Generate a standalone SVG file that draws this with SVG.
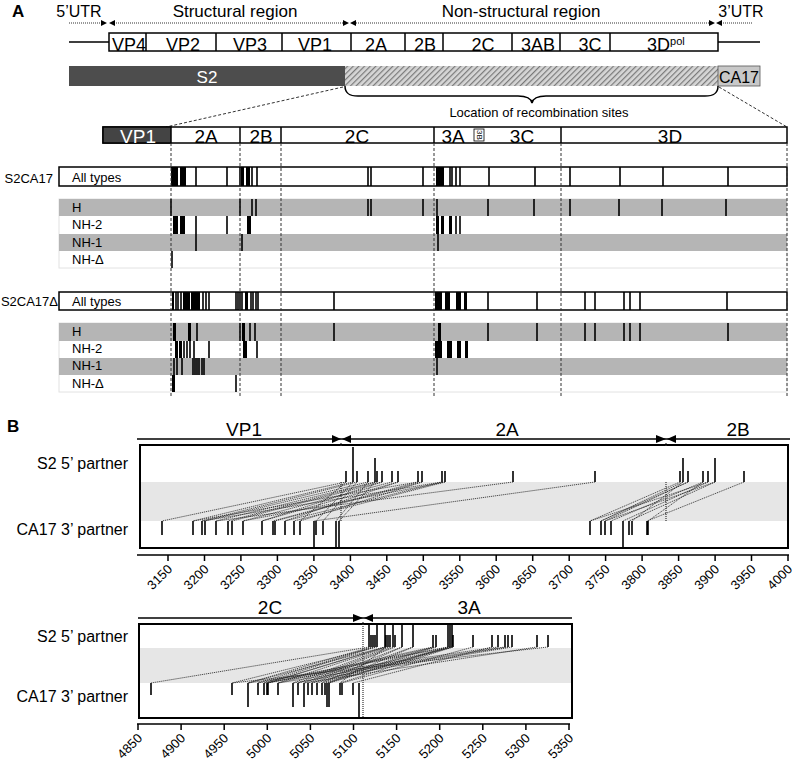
<svg xmlns="http://www.w3.org/2000/svg" width="797" height="765" viewBox="0 0 797 765">
<defs>
<pattern id="hatch" patternUnits="userSpaceOnUse" width="4" height="4" patternTransform="rotate(45)">
<rect width="4" height="4" fill="#d6d6d6"/>
<rect width="1.2" height="4" fill="#7a7a7a"/>
</pattern>
</defs>
<style>
text{font-family:"Liberation Sans",Arial,sans-serif;fill:#000}
.hd{font-size:17px;text-anchor:middle}
.ut{font-size:16px;text-anchor:middle}
.g1{font-size:18px;text-anchor:middle}
.g2{font-size:19px;text-anchor:middle}
.rl{font-size:13px}
.pl{font-size:16px;text-anchor:end}
.ax{font-size:13px;text-anchor:end}
.box{fill:#fff;stroke:#000;stroke-width:1.5}
.dotl{stroke:#333;stroke-width:1.2;stroke-dasharray:1 1;fill:none}
.dash{stroke:#333;stroke-width:1;stroke-dasharray:3 2;fill:none}
.tk{stroke:#000;stroke-width:1.6;fill:none}
.blk{fill:#000}
.gr{fill:#b5b5b5}
.wr{fill:#fff;stroke:#e2e2e2;stroke-width:1}
.cn{stroke:#222;stroke-width:0.8;stroke-dasharray:1.2 0.8;fill:none}
.ln{stroke:#000;stroke-width:1.5;fill:none}
</style>

<!-- Panel A header -->
<g id="panelA-header">
<text x="12" y="17" style="font-size:17px;font-weight:bold">A</text>
<text class="ut" x="79" y="17">5’UTR</text>
<text class="hd" x="235" y="17">Structural region</text>
<text class="hd" x="521" y="17">Non-structural region</text>
<text class="ut" x="741" y="17">3’UTR</text>
<path class="dotl" d="M69,23H101 M114,23H343 M356,23H709 M721,23H752"/>
<path d="M101,20L107,23L101,26Z M115,20L109,23L115,26Z M343,20L349,23L343,26Z M356,20L350,23L356,26Z M709,20L715,23L709,26Z M722,20L716,23L722,26Z" fill="#000"/>
</g>

<g id="genome">
<path class="ln" d="M69,42H109 M718,42H760"/>
<rect class="box" x="109" y="33" width="609" height="18"/>
<path class="ln" d="M146,33V51 M216,33V51 M282,33V51 M351,33V51 M405,33V51 M443,33V51 M512,33V51 M560,33V51 M610,33V51"/>
<text class="g1" x="129" y="51">VP4</text>
<text class="g1" x="183" y="51">VP2</text>
<text class="g1" x="250" y="51">VP3</text>
<text class="g1" x="315" y="51">VP1</text>
<text class="g1" x="376" y="51">2A</text>
<text class="g1" x="425" y="51">2B</text>
<text class="g1" x="483" y="51">2C</text>
<text class="g1" x="538" y="51">3AB</text>
<text class="g1" x="590" y="51">3C</text>
<text x="647" y="51" style="font-size:18px">3D<tspan dy="-6" style="font-size:11px">pol</tspan></text>
</g>

<g id="chimera-bar">
<rect x="69" y="66" width="276" height="20" fill="#4d4d4d"/>
<rect x="345" y="66" width="373" height="20" fill="url(#hatch)"/>
<rect x="718" y="66" width="42" height="20" fill="#c8c8c8" stroke="#555" stroke-width="0.8"/>
<text x="207" y="83" style="font-size:17px;text-anchor:middle;fill:#fff">S2</text>
<text x="739" y="83" style="font-size:16px;text-anchor:middle">CA17</text>
</g>

<g id="brace">
<path class="ln" d="M345,86 C345,94 350,96 358,96 L518,96 C526,96 531,98 532,103 C533,98 538,96 546,96 L705,96 C713,96 718,94 718,86"/>
<text x="539" y="117" style="font-size:13px;text-anchor:middle">Location of recombination sites</text>
</g>

<g id="zoom-lines">
<path class="dash" d="M343,87L166,127 M719,87L787,127"/>
</g>

<g id="genome-detail">
<rect class="box" x="103" y="127" width="684" height="16"/>
<rect x="103" y="127" width="68" height="16" fill="#444" stroke="#000" stroke-width="1.5"/>
<path class="ln" d="M240,127V143 M281,127V143 M434,127V143 M561,127V143"/>
<rect x="474" y="129" width="10" height="12" fill="#fff" stroke="#000" stroke-width="0.8"/>
<text x="479" y="135" transform="rotate(90 479 135)" style="font-size:8px;text-anchor:middle;dominant-baseline:central">3B</text>
<text x="138" y="143" style="font-size:19px;text-anchor:middle;fill:#fff">VP1</text>
<text class="g2" x="206" y="143">2A</text>
<text class="g2" x="261" y="143">2B</text>
<text class="g2" x="357" y="143">2C</text>
<text class="g2" x="453" y="143">3A</text>
<text class="g2" x="522" y="143">3C</text>
<text class="g2" x="670" y="143">3D</text>
</g>

<!-- S2CA17 rows -->
<g id="S2CA17">
<text class="rl" x="53" y="183" text-anchor="end">S2CA17</text>
<rect class="box" x="59" y="167" width="728" height="19"/>
<text class="rl" x="72" y="182">All types</text>
<path class="tk" d="M196,167V186 M227,167V186 M240,167V186 M252,167V186 M257,167V186 M368,167V186 M371,167V186 M423,167V186 M450,167V186 M452,167V186 M456,167V186 M460,167V186 M489,167V186 M535,167V186 M570,167V186 M620,167V186 M663,167V186 M728,167V186"/>
<path class="blk" d="M171,167h7v19h-7Z M180,167h6v19h-6Z M241,167h3v19h-3Z M246,167h4v19h-4Z M436,167h8v19h-8Z"/>

<rect class="wr" x="59" y="199" width="728" height="69"/>
<rect class="gr" x="59" y="199" width="728" height="17"/>
<rect class="gr" x="59" y="234" width="728" height="17"/>
<text class="rl" x="72" y="212">H</text>
<text class="rl" x="72" y="229">NH-2</text>
<text class="rl" x="72" y="247">NH-1</text>
<text class="rl" x="72" y="264">NH-Δ</text>
<path class="tk" d="M171,199V216 M240,199V216 M252,199V216 M256,199V216 M368,199V216 M371,199V216 M423,199V216 M437,199V216 M488,199V216 M534,199V216 M570,199V216 M619,199V216 M662,199V216 M726,199V216"/>
<path class="tk" d="M196,216V234 M227,216V234 M456,216V234 M460,216V234"/>
<path class="blk" d="M173,216h5v18h-5Z M180,216h5v18h-5Z M247,216h4v18h-4Z M436,216h3v18h-3Z M441,216h3v18h-3Z M449,216h3v18h-3Z"/>
<path class="tk" d="M196,234V251 M242,234V251 M438,234V251"/>
<path class="tk" d="M172,251V268"/>
</g>

<!-- S2CA17Δ rows -->
<g id="S2CA17delta">
<text class="rl" x="58" y="306" text-anchor="end">S2CA17Δ</text>
<rect class="box" x="59" y="292" width="728" height="18"/>
<text class="rl" x="72" y="306">All types</text>
<path class="tk" d="M176,292V310 M178,292V310 M181,292V310 M203,292V310 M206,292V310 M209,292V310 M236,292V310 M238,292V310 M240,292V310 M242,292V310 M251,292V310 M253,292V310 M256,292V310 M258,292V310 M334,292V310 M488,292V310 M537,292V310 M585,292V310 M595,292V310 M624,292V310 M630,292V310 M640,292V310 M727,292V310"/>
<path class="blk" d="M172,292h2v18h-2Z M183,292h7v18h-7Z M191,292h9v18h-9Z M245,292h3v18h-3Z M435,292h7v18h-7Z M445,292h5v18h-5Z M456,292h5v18h-5Z M464,292h3v18h-3Z"/>

<rect class="wr" x="59" y="323" width="728" height="69"/>
<rect class="gr" x="59" y="323" width="728" height="18"/>
<rect class="gr" x="59" y="358" width="728" height="17"/>
<text class="rl" x="72" y="336">H</text>
<text class="rl" x="72" y="353">NH-2</text>
<text class="rl" x="72" y="370">NH-1</text>
<text class="rl" x="72" y="388">NH-Δ</text>
<path class="tk" d="M197,323V341 M240,323V341 M250,323V341 M255,323V341 M334,323V341 M488,323V341 M537,323V341 M585,323V341 M595,323V341 M624,323V341 M630,323V341 M640,323V341 M728,323V341"/>
<path class="blk" d="M173,323h3v18h-3Z M188,323h3v18h-3Z M242,323h3v18h-3Z M438,323h3v18h-3Z"/>
<path class="tk" d="M184,341V358 M187,341V358 M190,341V358 M194,341V358 M209,341V358 M257,341V358"/>
<path class="blk" d="M175,341h3v17h-3Z M179,341h3v17h-3Z M243,341h4v17h-4Z M435,341h7v17h-7Z M447,341h5v17h-5Z M457,341h4v17h-4Z M465,341h3v17h-3Z"/>
<path class="tk" d="M174,358V375 M177,358V375 M182,358V375 M193,358V375 M195,358V375 M197,358V375 M199,358V375 M202,358V375 M204,358V375 M437,358V375"/>
<path class="tk" d="M236,375V392"/>
<path class="blk" d="M172,375h3v17h-3Z"/>
</g>

<g id="boundaries">
<path class="dash" d="M171,143V398 M240,143V398 M281,143V398 M434,143V398 M561,143V398 M787,143V398"/>
</g>

<!-- Panel B upper -->
<g id="panelB-upper">
<text x="7" y="432" style="font-size:17px;font-weight:bold">B</text>
<path class="ln" d="M137,439H790"/>
<path d="M332,435L341,439L332,443Z M351,435L342,439L351,443Z M656,435L666,439L656,443Z M676,435L667,439L676,443Z" fill="#000"/>
<text class="g2" x="244" y="436">VP1</text>
<text class="g2" x="507" y="436">2A</text>
<text class="g2" x="738" y="436">2B</text>
<rect x="140" y="482" width="648" height="39" fill="#e6e6e6"/>
<rect x="140" y="445" width="648" height="103" fill="none" stroke="#000" stroke-width="2"/>
<text class="pl" x="128" y="469">S2 5’ partner</text>
<text class="pl" x="128" y="535">CA17 3’ partner</text>
<path class="dotl" d="M341,443V447 M341,482V521 M666,443V447 M666,482V521"/>
<path class="tk" d="M346,471V482 M357,471V482 M368,471V482 M377,471V482 M382,471V482 M392,471V482 M398,471V482 M418,471V482 M422,471V482 M442,471V482 M445,471V482 M513,471V482 M595,471V482 M680,471V482 M688,471V482 M703,471V482 M708,471V482 M744,471V482 M353,447V482 M375,458V482 M683,458V482 M715,458V482"/>
<path class="tk" d="M162,521V535 M193,521V535 M202,521V535 M205,521V535 M216,521V535 M228,521V535 M232,521V535 M243,521V535 M262,521V535 M273,521V535 M275,521V535 M285,521V535 M294,521V535 M300,521V535 M316,521V535 M323,521V535 M590,521V535 M601,521V535 M605,521V535 M611,521V535 M629,521V535 M632,521V535 M647,521V535 M648,521V535 M314,521V548 M336,521V548 M339,521V548 M623,521V548"/>
<path class="cn" d="M346,482L162,521 M353,482L193,521 M357,482L202,521 M368,482L205,521 M375,482L216,521 M377,482L228,521 M382,482L232,521 M392,482L243,521 M398,482L262,521 M418,482L273,521 M422,482L275,521 M442,482L285,521 M445,482L294,521 M513,482L216,521 M595,482L314,521 M346,482L300,521 M353,482L316,521 M357,482L323,521 M368,482L336,521 M375,482L339,521 M418,482L193,521 M442,482L202,521 M382,482L262,521 M398,482L285,521 M422,482L300,521 M445,482L243,521"/>
<path class="cn" d="M680,482L590,521 M683,482L601,521 M688,482L605,521 M703,482L611,521 M708,482L623,521 M715,482L629,521 M744,482L647,521 M683,482L632,521 M703,482L648,521 M688,482L601,521 M715,482L605,521 M708,482L590,521"/>
<path class="ln" d="M137,555H789 M168,555V561 M204.5,555V561 M240.9,555V561 M277.4,555V561 M313.9,555V561 M350.4,555V561 M386.8,555V561 M423.3,555V561 M459.8,555V561 M496.2,555V561 M532.7,555V561 M569.2,555V561 M605.6,555V561 M642.1,555V561 M678.6,555V561 M715.1,555V561 M751.5,555V561 M788,555V561"/>
<text class="ax" x="173" y="570" transform="rotate(-45 173 570)">3150</text>
<text class="ax" x="209.5" y="570" transform="rotate(-45 209.5 570)">3200</text>
<text class="ax" x="245.9" y="570" transform="rotate(-45 245.9 570)">3250</text>
<text class="ax" x="282.4" y="570" transform="rotate(-45 282.4 570)">3300</text>
<text class="ax" x="318.9" y="570" transform="rotate(-45 318.9 570)">3350</text>
<text class="ax" x="355.4" y="570" transform="rotate(-45 355.4 570)">3400</text>
<text class="ax" x="391.8" y="570" transform="rotate(-45 391.8 570)">3450</text>
<text class="ax" x="428.3" y="570" transform="rotate(-45 428.3 570)">3500</text>
<text class="ax" x="464.8" y="570" transform="rotate(-45 464.8 570)">3550</text>
<text class="ax" x="501.2" y="570" transform="rotate(-45 501.2 570)">3600</text>
<text class="ax" x="537.7" y="570" transform="rotate(-45 537.7 570)">3650</text>
<text class="ax" x="574.2" y="570" transform="rotate(-45 574.2 570)">3700</text>
<text class="ax" x="610.6" y="570" transform="rotate(-45 610.6 570)">3750</text>
<text class="ax" x="647.1" y="570" transform="rotate(-45 647.1 570)">3800</text>
<text class="ax" x="683.6" y="570" transform="rotate(-45 683.6 570)">3850</text>
<text class="ax" x="720.1" y="570" transform="rotate(-45 720.1 570)">3900</text>
<text class="ax" x="756.5" y="570" transform="rotate(-45 756.5 570)">3950</text>
<text class="ax" x="793" y="570" transform="rotate(-45 793 570)">4000</text>
</g>

<!-- Panel B lower -->
<g id="panelB-lower">
<path class="ln" d="M138,618H572"/>
<path d="M353,614L363,618L353,622Z M373,614L364,618L373,622Z" fill="#000"/>
<text class="g2" x="270" y="614">2C</text>
<text class="g2" x="469" y="614">3A</text>
<rect x="139" y="648" width="432" height="35" fill="#e6e6e6"/>
<rect x="139" y="624" width="433" height="94" fill="none" stroke="#000" stroke-width="2"/>
<text class="pl" x="128" y="642">S2 5’ partner</text>
<text class="pl" x="128" y="702">CA17 3’ partner</text>
<path class="tk" d="M371,635V647 M373,635V647 M375,635V647 M386,635V647 M388,635V647 M390,635V647 M395,635V647 M433,635V647 M436,635V647 M453,635V647 M473,635V647 M492,635V647 M498,635V647 M505,635V647 M508,635V647 M512,635V647 M537,635V647 M548,635V647 M369,625V647 M377,625V647 M385,625V647 M393,625V647 M402,625V647 M413,625V647 M448,625V647 M450,625V647 M452,625V647"/>
<path class="tk" d="M151,683V695 M232,683V695 M258,683V695 M264,683V695 M267,683V695 M268,683V695 M278,683V695 M298,683V695 M308,683V695 M312,683V695 M317,683V695 M322,683V695 M325,683V695 M340,683V695 M342,683V695 M353,683V695 M248,683V707 M293,683V707 M304,683V707 M327,683V707 M329,683V707 M359,683V718"/>
<path class="cn" d="M369,647L151,683 M377,647L232,683 M371,647L248,683 M373,647L258,683 M375,647L264,683 M385,647L267,683 M386,647L268,683 M388,647L278,683 M390,647L293,683 M393,647L298,683 M395,647L304,683 M402,647L308,683 M413,647L312,683 M433,647L317,683 M436,647L322,683 M448,647L325,683 M450,647L327,683 M452,647L329,683 M453,647L340,683 M473,647L342,683 M492,647L353,683 M498,647L248,683 M505,647L264,683 M508,647L278,683 M512,647L293,683 M537,647L304,683 M548,647L232,683 M448,647L258,683 M450,647L267,683 M452,647L298,683 M453,647L312,683 M402,647L322,683 M413,647L329,683 M386,647L340,683 M385,647L248,683 M433,647L268,683 M436,647L278,683"/>
<path class="dotl" d="M363,622V718"/>
<path class="ln" d="M137,724H570 M138,724V730 M181.1,724V730 M224.2,724V730 M267.3,724V730 M310.4,724V730 M353.5,724V730 M396.6,724V730 M439.7,724V730 M482.8,724V730 M525.9,724V730 M569,724V730"/>
<text class="ax" x="143" y="739" transform="rotate(-45 143 739)">4850</text>
<text class="ax" x="186.1" y="739" transform="rotate(-45 186.1 739)">4900</text>
<text class="ax" x="229.2" y="739" transform="rotate(-45 229.2 739)">4950</text>
<text class="ax" x="272.3" y="739" transform="rotate(-45 272.3 739)">5000</text>
<text class="ax" x="315.4" y="739" transform="rotate(-45 315.4 739)">5050</text>
<text class="ax" x="358.5" y="739" transform="rotate(-45 358.5 739)">5100</text>
<text class="ax" x="401.6" y="739" transform="rotate(-45 401.6 739)">5150</text>
<text class="ax" x="444.7" y="739" transform="rotate(-45 444.7 739)">5200</text>
<text class="ax" x="487.8" y="739" transform="rotate(-45 487.8 739)">5250</text>
<text class="ax" x="530.9" y="739" transform="rotate(-45 530.9 739)">5300</text>
<text class="ax" x="574" y="739" transform="rotate(-45 574 739)">5350</text>
</g>
</svg>
